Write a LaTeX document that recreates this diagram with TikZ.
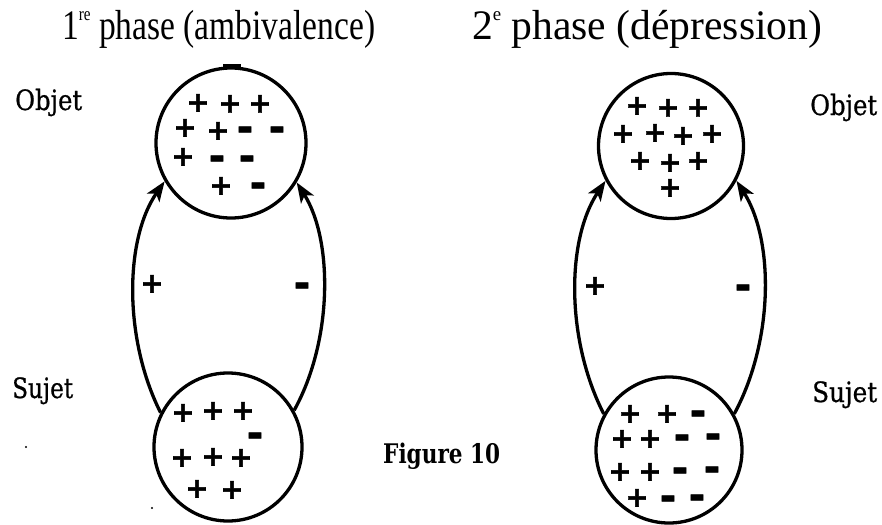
\documentclass[tikz,border=0pt]{standalone}
\usepackage{fontspec}
\usepackage{graphicx}
\setmainfont{Liberation Serif}
\newfontfamily\labelfont{DejaVu Serif}[FakeBold=0.8]
\newfontfamily\captionfont{DejaVu Serif}
\newfontfamily\signfont{DejaVu Sans}[BoldFeatures={FakeBold=1.5}]
\usetikzlibrary{arrows.meta}
\newcommand\highsup[1]{\raisebox{19pt}{\fontsize{19}{19}\selectfont #1}}
\begin{document}
\begin{tikzpicture}[x=1pt,y=-1pt,
  ring/.style={circle,draw,line width=3.3pt,minimum size=#1,inner sep=0pt},
  link/.style={line width=3.3pt,-{Stealth[length=20pt,width=15pt,inset=5pt]}},
  plussign/.style={font={\signfont\bfseries\fontsize{28}{28}\selectfont},inner sep=0pt,
              text height=19.5pt,text depth=0pt},
  minussign/.style={font={\signfont\bfseries\fontsize{40}{40}\selectfont},inner sep=0pt,
              text height=24pt,text depth=0pt},
  title/.style={font={\fontsize{42}{42}\selectfont},inner sep=0pt,anchor=base west},
  word/.style={font={\labelfont\fontsize{28}{28}\selectfont},inner sep=0pt,anchor=base west},
  caption/.style={font={\captionfont\bfseries\fontsize{27}{27}\selectfont},inner sep=0pt,anchor=base west}]
\useasboundingbox (0,0) rectangle (882,524);

% headings
\node[title] (h1) at (62,40) {\resizebox{313pt}{\height}{1\highsup{re} phase (ambivalence)}};
\node[title] (h2) at (472,40) {\resizebox{350pt}{\height}{2\highsup{e} phase (dépression)}};

% side labels
\node[word] (oL) at (15,110) {\resizebox{67pt}{\height}{Objet}};
\node[word] (sL) at (12,398) {\resizebox{61pt}{\height}{Sujet}};
\node[word] (oR) at (810,115) {\resizebox{67pt}{\height}{Objet}};
\node[word] (sR) at (812,402) {\resizebox{65pt}{\height}{Sujet}};
\node[caption] (fig) at (383,463) {\resizebox{117pt}{\height}{Figure 10}};

% object and subject circles
\node[ring=150pt] (objL) at (231,143) {};
\node[ring=148pt] (subjL) at (228,447) {};
\node[ring=145pt] (objR) at (671,146) {};
\node[ring=146pt] (subjR) at (669,450) {};

% thick spot on the first object circle
\draw[line width=4pt] (223,66) -- (241,66);

% links from subject to object
\draw[link] (subjL.153) .. controls (124,340) and (124,240) .. (objL.210);
\draw[link] (subjL.29) .. controls (333,340) and (333,240) .. (objL.329);
\draw[link] (subjR.151) .. controls (566,340) and (566,240) .. (objR.208);
\draw[link] (subjR.29) .. controls (774,340) and (774,240) .. (objR.332);

% link signs
\node[plussign] (aL1) at (152,283) {+};
\node[minussign] (aL2) at (302,285) {-};
\node[plussign] (aR1) at (595,285) {+};
\node[minussign] (aR2) at (743,287) {-};

% charges, first phase, object
\foreach [count=\i] \x/\y in {198/102,230/103,260/103,185/127,218/130,183/156,221/185}
  \node[plussign] (pa\i) at (\x,\y) {+};
\foreach [count=\i] \x/\y in {245/129,277/129,217/158,247/158,258/185}
  \node[minussign] (na\i) at (\x,\y) {-};

% charges, first phase, subject
\foreach [count=\i] \x/\y in {183/412,213/410,243/410,182/457,213/456,241/457,197/488,232/489}
  \node[plussign] (pb\i) at (\x,\y) {+};
\node[minussign] (nb1) at (255,435) {-};

% charges, second phase, object
\foreach [count=\i] \x/\y in {637/105,668/107,698/107,
    623/133,655/132,683/135,712/133,
    640/160,670/162,698/160,670/187}
  \node[plussign] (pc\i) at (\x,\y) {+};

% charges, second phase, subject
\foreach [count=\i] \x/\y in {630/413,667/413,622/438,650/438,620/471,650/471,637/497}
  \node[plussign] (pd\i) at (\x,\y) {+};
\foreach [count=\i] \x/\y in {698/413,682/437,713/436,680/470,712/469,668/498,697/497}
  \node[minussign] (nd\i) at (\x,\y) {-};

% specks
\fill (26,447) circle (1.2);
\fill (152,508) circle (1.2);
\end{tikzpicture}
\end{document}
